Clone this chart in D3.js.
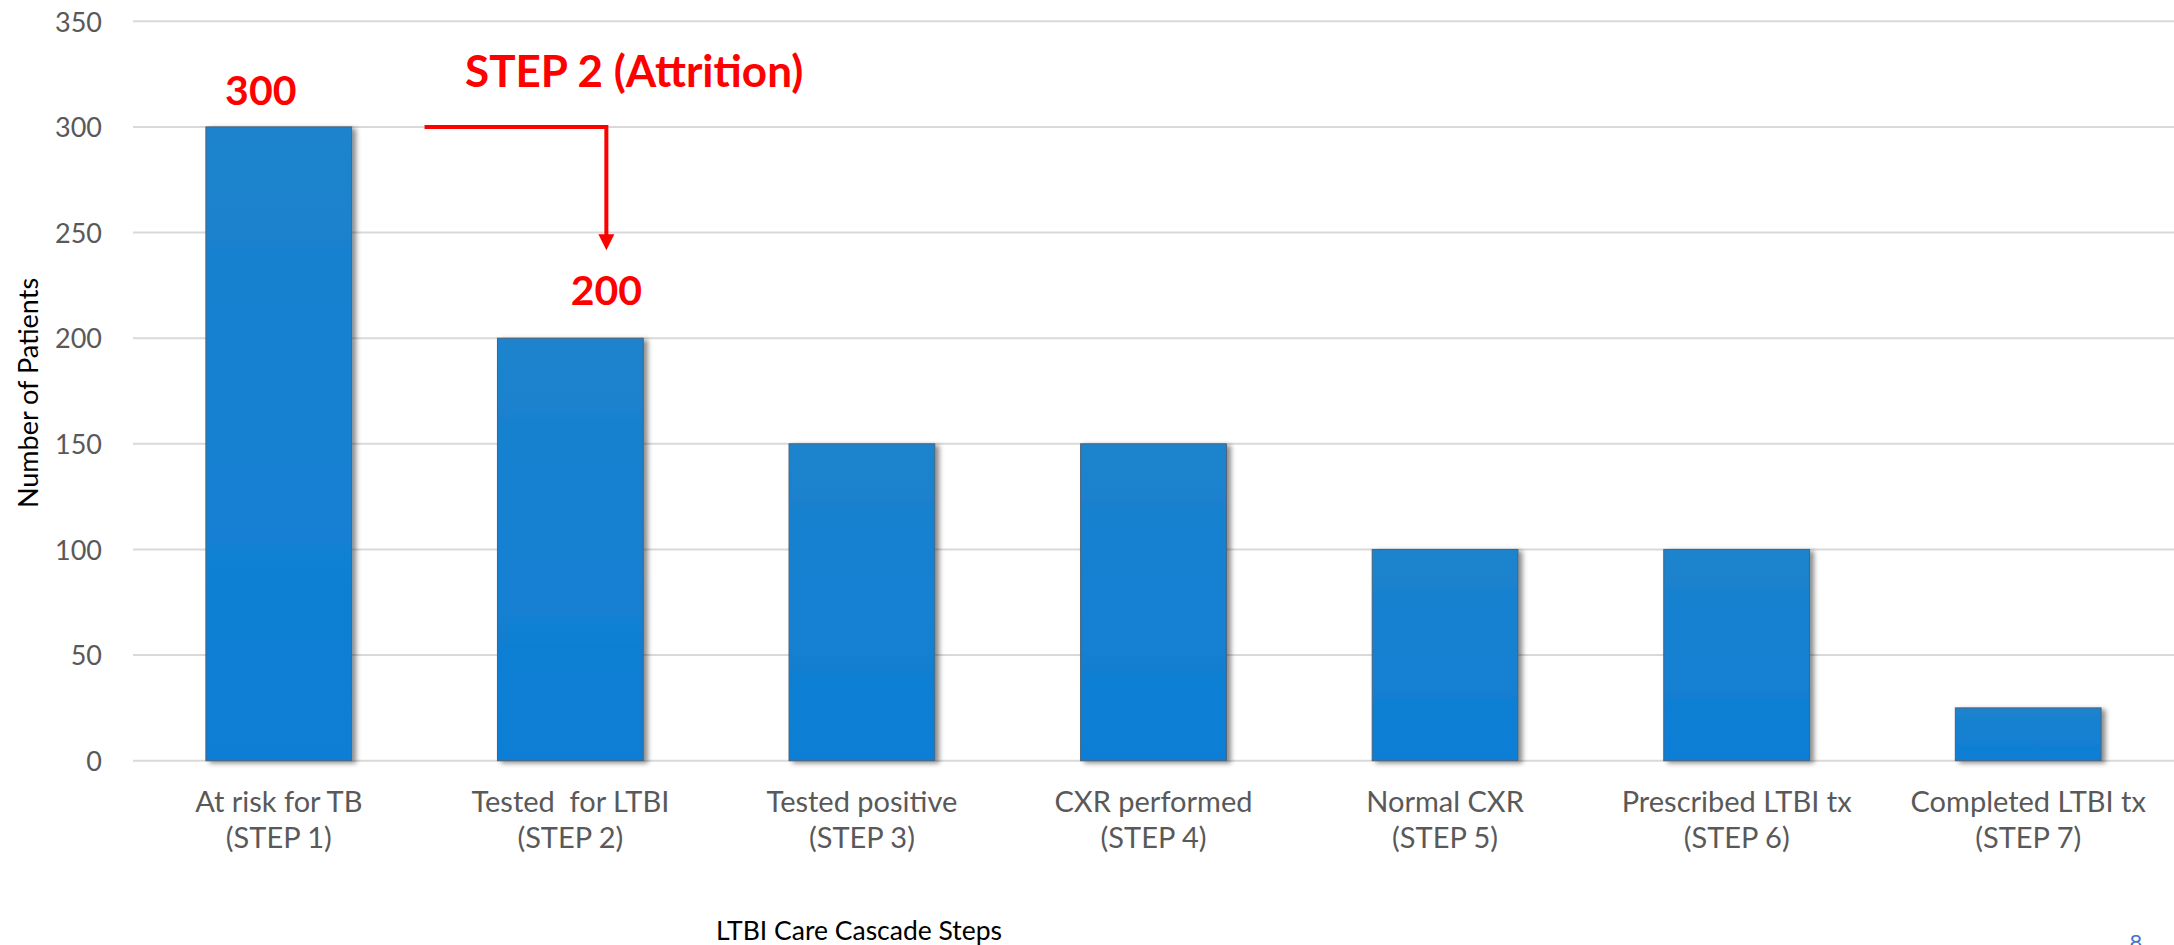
<!DOCTYPE html>
<html>
<head>
<meta charset="utf-8">
<script src="https://cdn.jsdelivr.net/npm/d3@7"></script>
<style>
  html, body { margin: 0; padding: 0; background: #fff; }
  svg { display: block; }
  text { font-family: Lato, "Open Sans", sans-serif; white-space: pre; }
</style>
</head>
<body>
<svg id="chart" width="2174" height="945"></svg>
<script>
// LTBI care cascade: patients remaining at each step
const categories = [
  ["At risk for TB", "(STEP 1)"],
  ["Tested  for LTBI", "(STEP 2)"],
  ["Tested positive", "(STEP 3)"],
  ["CXR performed", "(STEP 4)"],
  ["Normal CXR", "(STEP 5)"],
  ["Prescribed LTBI tx", "(STEP 6)"],
  ["Completed LTBI tx", "(STEP 7)"]
];
const patients = [300, 200, 150, 150, 100, 100, 25];
const yTicks = [0, 50, 100, 150, 200, 250, 300, 350];
const yTitle = "Number of Patients";
const xTitle = "LTBI Care Cascade Steps";
const attritionLabel = "STEP 2 (Attrition)";
const pageNumber = "8";

const plot = { left: 133, right: 2174, top: 21.3, bottom: 760.7 };

const svg = d3.select("#chart");

const x = d3.scaleBand()
  .domain(d3.range(categories.length))
  .range([plot.left, plot.right])
  .paddingInner(0.5)
  .paddingOuter(0.25);

const y = d3.scaleLinear()
  .domain([0, 350])
  .range([plot.bottom, plot.top]);

// defs: bar gradient and drop shadow
const defs = svg.append("defs");
const grad = defs.append("linearGradient")
  .attr("id", "barFill").attr("x1", 0).attr("y1", 0).attr("x2", 0).attr("y2", 1);
grad.append("stop").attr("offset", "0%").attr("stop-color", "#1f83cc");
grad.append("stop").attr("offset", "30%").attr("stop-color", "#1681d0");
grad.append("stop").attr("offset", "100%").attr("stop-color", "#0e7ed5");

const shadow = defs.append("filter")
  .attr("id", "barShadow")
  .attr("x", "-10%").attr("y", "-10%").attr("width", "130%").attr("height", "130%");
shadow.append("feDropShadow")
  .attr("dx", 4).attr("dy", 2).attr("stdDeviation", 2.5)
  .attr("flood-color", "#000").attr("flood-opacity", 0.45);

// gridlines
svg.append("g")
  .selectAll("line")
  .data(yTicks)
  .join("line")
  .attr("x1", plot.left).attr("x2", plot.right)
  .attr("y1", d => y(d)).attr("y2", d => y(d))
  .attr("stroke", "#d9d9d9")
  .attr("stroke-width", 2);

// y axis tick labels
const yAxis = d3.axisLeft(y).tickValues(yTicks).tickSize(0).tickPadding(0);
const yG = svg.append("g")
  .attr("transform", `translate(${plot.left - 31},0)`)
  .call(yAxis);
yG.select(".domain").remove();
yG.selectAll("text")
  .attr("fill", "#595959")
  .style("font-size", "27px")
  .attr("dy", "0.36em");

// bars
svg.append("g")
  .selectAll("rect")
  .data(patients)
  .join("rect")
  .attr("x", (d, i) => x(i))
  .attr("y", d => y(d))
  .attr("width", x.bandwidth())
  .attr("height", d => y(0) - y(d))
  .attr("fill", "url(#barFill)")
  .attr("stroke", "#4b6278")
  .attr("stroke-width", 1)
  .attr("filter", "url(#barShadow)");

// x axis category labels (two lines each)
const xAxis = d3.axisBottom(x).tickSize(0).tickFormat(() => "");
const xG = svg.append("g")
  .attr("transform", `translate(0,${plot.bottom})`)
  .call(xAxis);
xG.select(".domain").remove();
xG.selectAll(".tick text").remove();
xG.selectAll(".tick")
  .append("text")
  .attr("text-anchor", "middle")
  .attr("fill", "#595959")
  .style("font-size", "29px")
  .selectAll("tspan")
  .data((d, i) => categories[i])
  .join("tspan")
  .attr("x", 0)
  .attr("y", (d, j) => 51 + j * 36.5)
  .text(d => d);

// axis titles
svg.append("text")
  .attr("transform", `translate(38,${393}) rotate(-90)`)
  .attr("text-anchor", "middle")
  .attr("fill", "#000")
  .style("font-size", "27px")
  .text(yTitle);

svg.append("text")
  .attr("x", 859).attr("y", 940)
  .attr("text-anchor", "middle")
  .attr("fill", "#000")
  .style("font-size", "26.5px")
  .text(xTitle);

// value callouts for the first two steps
const red = "#ff0000";
const c0 = x(0) + x.bandwidth() / 2;
const c1 = x(1) + x.bandwidth() / 2;
const arrowX = c1 + 36;

svg.append("text")
  .attr("x", c0 - 18).attr("y", y(patients[0]) - 22)
  .attr("text-anchor", "middle")
  .attr("fill", red).style("font-weight", 700).style("font-size", "41px")
  .text(patients[0]);

svg.append("text")
  .attr("x", arrowX).attr("y", y(patients[1]) - 33)
  .attr("text-anchor", "middle")
  .attr("fill", red).style("font-weight", 700).style("font-size", "41px")
  .text(patients[1]);

svg.append("text")
  .attr("x", 465).attr("y", 87)
  .attr("fill", red).style("font-weight", 700).style("font-size", "44px")
  .text(attritionLabel);

// attrition arrow: across from step 1 height, then down toward step 2
const arrowStartX = x(0) + x.bandwidth() + (x.step() - x.bandwidth()) / 2;
const arrowTipY = y(patients[1]) - 88;
svg.append("path")
  .attr("d", `M${arrowStartX},${y(patients[0])} H${arrowX} V${arrowTipY - 14}`)
  .attr("fill", "none")
  .attr("stroke", red)
  .attr("stroke-width", 4);
svg.append("path")
  .attr("d", `M${arrowX - 8},${arrowTipY - 16} L${arrowX + 8},${arrowTipY - 16} L${arrowX},${arrowTipY} Z`)
  .attr("fill", red);

// slide number
svg.append("text")
  .attr("x", 2136).attr("y", 950)
  .attr("text-anchor", "middle")
  .attr("fill", "#4472c4")
  .style("font-size", "22px")
  .text(pageNumber);
</script>
</body>
</html>
